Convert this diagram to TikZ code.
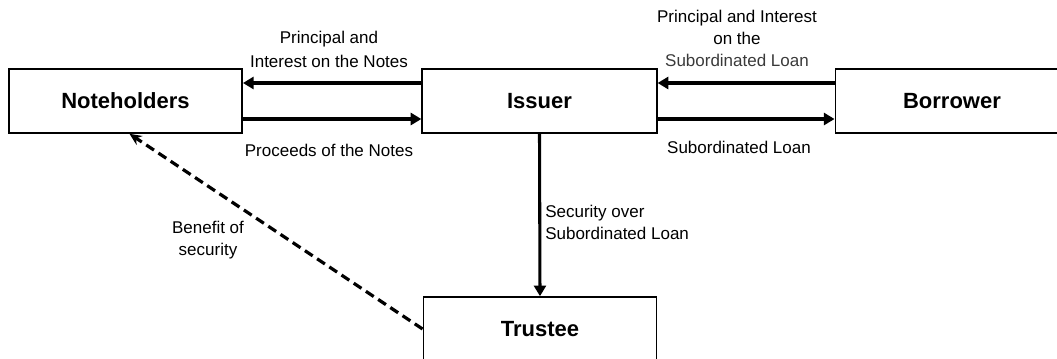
\documentclass[tikz,border=0pt]{standalone}
\usepackage{fontspec}
\setmainfont{Liberation Sans}
\usetikzlibrary{arrows.meta,positioning}
\definecolor{dimtext}{HTML}{3A3A3A}

\begin{document}
\begin{tikzpicture}[x=.75pt,y=-.75pt,
  party/.style={draw,line width=1.2pt,minimum width=175pt,minimum height=48pt,font=\fontsize{16.5}{20}\selectfont\bfseries},
  flow/.style={-{Triangle[length=8pt,width=9pt]},line width=2.3pt},
  lbl/.style={font=\fontsize{12.75}{16.5}\selectfont,align=center,inner sep=0pt}]
\clip (0,0) rectangle (1057,358);
% the four parties
\node[party] (note) at (125.5,101){Noteholders};
\node[party,minimum width=176pt] (iss) at (539.5,101){Issuer};
\node[party] (borr) at (952,101){Borrower};
\node[party] (tru) at (540,329){Trustee};
% cash flows
\draw[flow] ([yshift=13.5pt]iss.west)--([yshift=13.5pt]note.east);
\draw[flow] ([yshift=-13.5pt]note.east)--([yshift=-13.5pt]iss.west);
\draw[flow] ([yshift=13.5pt]borr.west)--([yshift=13.5pt]iss.east);
\draw[flow] ([yshift=-13.5pt]iss.east)--([yshift=-13.5pt]borr.west);
\draw[flow] (iss.south)--(tru.north);
\draw[-{Stealth[length=9pt,width=8pt]},line width=2.4pt,dash pattern=on 7pt off 4pt] (tru.west)--([xshift=3pt]note.south);
% labels
\node[lbl] (pinotes) at (329,49.3){Principal and\\[1.5pt]Interest on the Notes};
\node[lbl] (proceeds) at (329,150){Proceeds of the Notes};
\node[lbl] (pisub) at (737,38.3){Principal and Interest\\on the\\{\color{dimtext}Subordinated Loan}};
\node[lbl] (subloan) at (739,147){Subordinated Loan};
\node[lbl,align=left,anchor=west] (secover) at (545,222.3){Security over\\[-.5pt]Subordinated Loan};
\node[lbl] (benefit) at (208,239.6){Benefit of\\security};
\end{tikzpicture}
\end{document}
